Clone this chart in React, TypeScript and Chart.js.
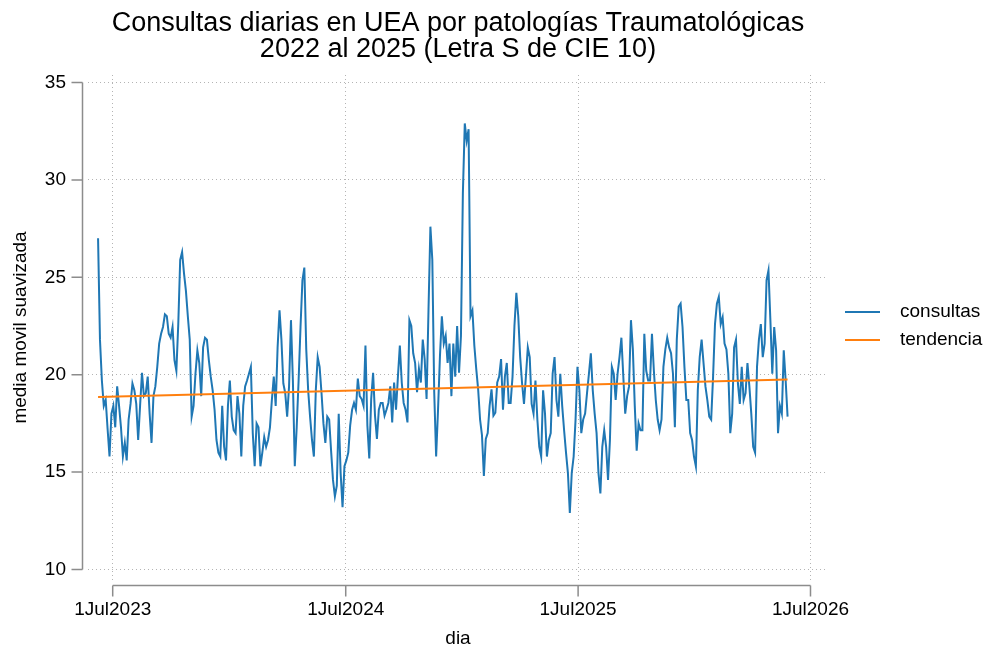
import React, { useEffect, useRef } from 'react';
import { Chart, registerables } from 'chart.js';

Chart.register(...registerables);

// ---- data ----
const titleLines = [
  'Consultas diarias en UEA por patologías Traumatológicas',
  '2022 al 2025 (Letra S de CIE 10)',
];
const xAxisTitle = 'dia';
const yAxisTitle = 'media movil suavizada';
const seriesLabels = ['consultas', 'tendencia'];

// consultas: one value every 3 days starting at startDate
const startDate = '2023-06-08';
const stepDays = 3;
const consultas = [
  27.0, 21.8, 19.7, 18.4, 18.7, 17.2, 15.8, 18.0, 18.4, 17.3,
  19.4, 18.4, 17.3, 15.8, 16.5, 15.6, 17.7, 18.5, 19.55, 19.2,
  18.5, 16.65, 18.4, 20.1, 18.9, 19.05, 19.9, 18.0, 16.5, 18.9,
  19.4, 20.4, 21.6, 22.1, 22.45, 23.1, 23.0, 22.1, 21.9, 22.45,
  20.75, 20.2, 22.6, 25.9, 26.3, 25.2, 24.3, 23.0, 21.8, 17.85,
  18.4, 20.05, 21.25, 20.6, 18.9, 21.4, 21.9, 21.8, 20.75, 19.9,
  19.2, 18.2, 16.65, 16.0, 15.8, 18.4, 16.3, 15.6, 18.4, 19.7,
  17.85, 17.15, 17.0, 18.9, 18.0, 15.8, 18.4, 19.4, 19.7, 20.05,
  20.4, 17.0, 15.3, 17.5, 17.3, 15.3, 16.0, 16.8, 16.3, 16.65,
  17.3, 18.7, 19.9, 18.4, 21.4, 23.3, 21.8, 19.55, 19.05, 17.85,
  19.4, 22.8, 19.7, 15.3, 17.3, 19.7, 22.45, 24.85, 25.5, 21.3,
  19.2, 17.85, 16.65, 15.8, 19.2, 20.9, 20.4, 19.05, 17.5, 16.5,
  17.85, 17.7, 16.1, 14.6, 13.75, 14.3, 18.0, 14.95, 13.2, 15.3,
  15.6, 16.0, 17.4, 18.2, 18.55, 18.2, 19.8, 18.9, 18.75, 18.4,
  21.5, 17.4, 15.7, 18.75, 20.1, 17.9, 16.7, 18.2, 18.55, 18.55,
  17.9, 18.2, 18.55, 19.4, 17.55, 19.6, 18.2, 19.9, 21.5, 19.6,
  18.55, 18.2, 17.55, 22.8, 22.5, 21.1, 20.6, 19.1, 20.3, 19.6,
  21.8, 20.8, 18.75, 23.3, 27.6, 25.9, 19.1, 15.8, 18.2, 20.95,
  23.0, 21.6, 22.0, 20.6, 21.6, 18.9, 21.6, 19.9, 22.5, 20.1,
  22.0, 29.3, 32.9, 32.0, 32.6, 23.0, 23.3, 21.5, 20.3, 19.25,
  17.7, 16.9, 14.8, 16.7, 17.0, 18.4, 19.25, 17.9, 18.05, 19.6,
  19.9, 20.8, 18.2, 19.9, 20.6, 18.55, 18.55, 19.9, 22.5, 24.2,
  23.0, 20.9, 19.55, 18.5, 19.9, 21.4, 20.9, 18.5, 18.0, 19.7,
  17.7, 16.3, 15.8, 19.2, 18.0, 15.8, 16.65, 17.0, 20.05, 20.9,
  18.7, 17.85, 20.05, 18.4, 17.15, 16.0, 14.95, 12.9, 14.95, 15.8,
  17.7, 20.4, 19.2, 17.0, 17.7, 18.0, 19.05, 20.05, 21.1, 19.2,
  18.0, 17.0, 14.95, 13.9, 16.3, 17.15, 16.3, 14.6, 16.65, 20.4,
  20.05, 18.7, 20.05, 20.9, 21.9, 19.9, 18.0, 18.9, 19.4, 22.8,
  21.3, 18.4, 16.1, 17.5, 17.15, 17.15, 22.1, 20.2, 19.7, 19.7,
  22.1, 20.2, 18.7, 17.7, 17.15, 17.7, 20.4, 21.3, 21.9, 21.4,
  21.1, 20.05, 17.3, 21.8, 23.5, 23.65, 22.45, 20.4, 18.7, 18.7,
  17.0, 16.65, 15.8, 15.3, 19.2, 20.9, 21.8, 20.6, 19.4, 18.7,
  17.85, 17.7, 19.9, 22.6, 23.65, 24.0, 22.6, 22.95, 21.6, 21.3,
  20.05, 17.0, 18.0, 21.4, 21.8, 19.55, 18.5, 20.4, 18.7, 19.05,
  20.6, 19.4, 18.0, 16.3, 16.0, 20.4, 21.8, 22.6, 20.9, 21.6,
  24.85, 25.35, 22.8, 20.05, 22.45, 21.25, 17.0, 18.4, 18.0, 21.25,
  19.7, 17.85,
];

const tendenciaDates = ['2023-06-08', '2026-05-26'];
const tendencia = [18.85, 19.75];

const xTickDates = ['2023-07-01', '2024-07-01', '2025-07-01', '2026-07-01'];
const xTickLabels = ['1Jul2023', '1Jul2024', '1Jul2025', '1Jul2026'];
const yTicks = [10, 15, 20, 25, 30, 35];

// ---- helpers ----
const DAY = 86400000;
const ORIGIN = Date.UTC(2023, 6, 1);
const toDay = (s: string) => {
  const [y, m, d] = s.split('-').map(Number);
  return (Date.UTC(y, m - 1, d) - ORIGIN) / DAY;
};
const startDay = toDay(startDate);
const consultasPts = consultas.map((v, i) => ({ x: startDay + i * stepDays, y: v }));
const tendenciaPts = tendencia.map((v, i) => ({ x: toDay(tendenciaDates[i]), y: v }));
const xTickDays = xTickDates.map(toDay);

const FONT = "'Liberation Sans', Arial, Helvetica, sans-serif";
const BLUE = '#1f77b4';
const ORANGE = '#ff7f0e';
const AXIS = '#8c8c8c';

const stataPlugin = {
  id: 'stataAxes',
  afterDraw(chart: any) {
    const { ctx, chartArea, scales } = chart;
    const xs = scales.x;
    const ys = scales.y;
    ctx.save();
    ctx.strokeStyle = AXIS;
    ctx.lineWidth = 1.5;
    ctx.beginPath();
    const ax = chartArea.left - 5.5;
    const yTop = ys.getPixelForValue(yTicks[yTicks.length - 1]);
    const yBot = ys.getPixelForValue(yTicks[0]);
    ctx.moveTo(ax, yTop);
    ctx.lineTo(ax, yBot);
    yTicks.forEach((v) => {
      const p = ys.getPixelForValue(v);
      ctx.moveTo(ax - 11, p);
      ctx.lineTo(ax, p);
    });
    const ay = chartArea.bottom + 5.5;
    const xL = xs.getPixelForValue(xTickDays[0]);
    const xR = xs.getPixelForValue(xTickDays[xTickDays.length - 1]);
    ctx.moveTo(xL, ay);
    ctx.lineTo(xR, ay);
    xTickDays.forEach((d) => {
      const p = xs.getPixelForValue(d);
      ctx.moveTo(p, ay);
      ctx.lineTo(p, ay + 11);
    });
    ctx.stroke();

    // legend
    const lx = chartArea.right + 17;
    const top = chart.height / 2 - 14;
    ctx.font = `19px ${FONT}`;
    ctx.textBaseline = 'middle';
    ctx.textAlign = 'left';
    chart.data.datasets.forEach((ds: any, i: number) => {
      const y = top + i * 28;
      ctx.strokeStyle = ds.borderColor;
      ctx.lineWidth = 2;
      ctx.beginPath();
      ctx.moveTo(lx, y);
      ctx.lineTo(lx + 35, y);
      ctx.stroke();
      ctx.fillStyle = '#000';
      ctx.fillText(ds.label, lx + 55, y);
    });
    ctx.restore();
  },
};

export default function App() {
  const ref = useRef<HTMLCanvasElement>(null);
  useEffect(() => {
    if (!ref.current) return;
    Chart.defaults.font.family = FONT;
    const chart = new Chart(ref.current, {
      type: 'line',
      data: {
        datasets: [
          {
            label: seriesLabels[0],
            data: consultasPts,
            borderColor: BLUE,
            backgroundColor: BLUE,
            borderWidth: 2,
            pointRadius: 0,
            tension: 0,
            order: 1,
          },
          {
            label: seriesLabels[1],
            data: tendenciaPts,
            borderColor: ORANGE,
            backgroundColor: ORANGE,
            borderWidth: 2,
            pointRadius: 0,
            tension: 0,
            order: 0,
          },
        ],
      },
      options: {
        responsive: false,
        animation: false,
        devicePixelRatio: 1,
        layout: { padding: { left: 0, right: 164, top: 0, bottom: 0 } },
        plugins: {
          legend: { display: false },
          tooltip: { enabled: false },
          title: {
            display: true,
            text: titleLines,
            fullSize: false,
            color: '#000',
            font: { size: 27, weight: 'normal', lineHeight: '26px' },
            padding: { top: 11, bottom: 12 },
          },
        },
        scales: {
          x: {
            type: 'linear',
            min: -38.8,
            max: 1123.5,
            afterBuildTicks: (s: any) => {
              s.ticks = xTickDays.map((v) => ({ value: v }));
            },
            afterFit: (s: any) => {
              s.height = 72;
            },
            ticks: {
              autoSkip: false,
              maxRotation: 0,
              padding: 18,
              color: '#000',
              font: { size: 19 },
              callback: (v: any) => {
                const i = xTickDays.indexOf(v);
                return i >= 0 ? xTickLabels[i] : '';
              },
            },
            grid: { color: '#b4b4b4', lineWidth: 1, drawTicks: false },
            border: { display: false, dash: [1, 3] },
            title: {
              display: true,
              text: xAxisTitle,
              color: '#000',
              font: { size: 19 },
              padding: { top: 0, bottom: 2 },
            },
          },
          y: {
            type: 'linear',
            min: 9.461,
            max: 35.385,
            afterBuildTicks: (s: any) => {
              s.ticks = yTicks.map((v) => ({ value: v }));
            },
            afterFit: (s: any) => {
              s.width = 88;
            },
            ticks: {
              padding: 22,
              color: '#000',
              font: { size: 19 },
            },
            grid: { color: '#b4b4b4', lineWidth: 1, drawTicks: false },
            border: { display: false, dash: [1, 3] },
            title: {
              display: true,
              text: yAxisTitle,
              color: '#000',
              font: { size: 19 },
              padding: { top: 9, bottom: 0 },
            },
          },
        },
      },
      plugins: [stataPlugin],
    });
    return () => chart.destroy();
  }, []);
  return (
    <div style={{ position: 'fixed', left: 0, top: 0, width: 992, height: 652, background: '#fff' }}>
      <canvas ref={ref} width={992} height={652} style={{ width: 992, height: 652, display: 'block' }} />
    </div>
  );
}
